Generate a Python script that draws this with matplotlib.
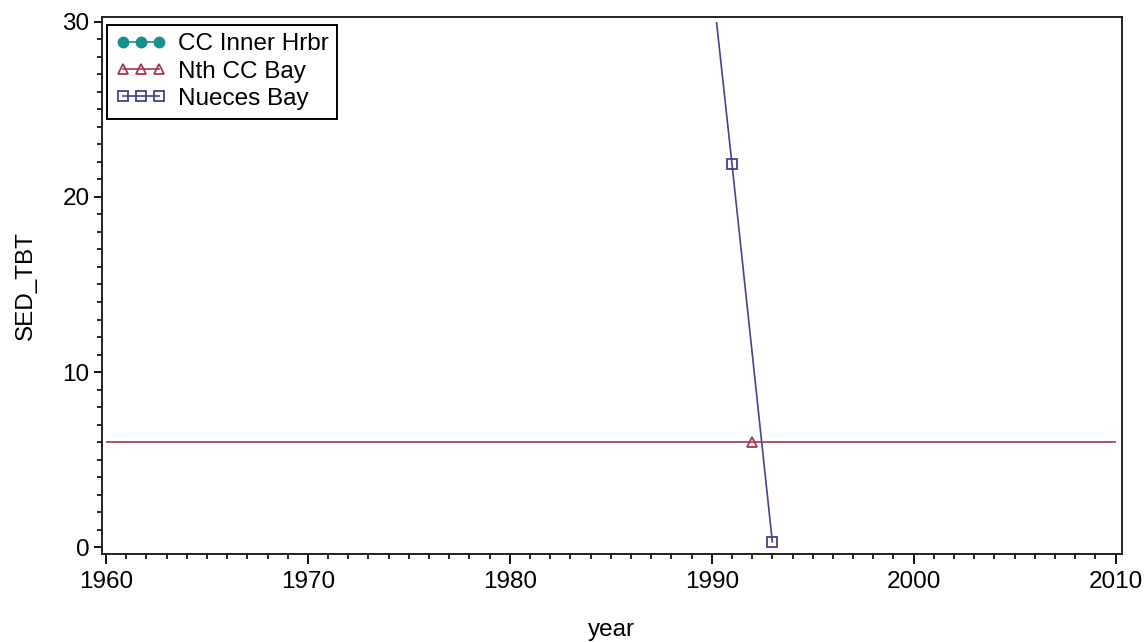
import matplotlib
matplotlib.use('Agg')
import matplotlib.pyplot as plt
from matplotlib.patches import Rectangle
from matplotlib.ticker import MultipleLocator

plt.rcParams['font.family'] = ['Liberation Sans', 'DejaVu Sans']

# series (points outside the 1960-2010 / 0-30 window are clipped, as in the source)
inner_years = []
inner_tbt = []
nth_years = [1950, 1992, 2020]
nth_tbt = [6.0, 6.0, 6.0]
nueces_years = [1990, 1991, 1993]
nueces_tbt = [32.5, 21.9, 0.3]

series_names = ['CC Inner Hrbr', 'Nth CC Bay', 'Nueces Bay']
colors = ['#17918a', '#a43750', '#42428f']

fs = 17.5

fig = plt.figure(figsize=(11.47, 6.42), dpi=100)
ax = fig.add_axes([0.0889, 0.137, 0.889, 0.837])

clip = Rectangle((1960, 0), 50, 30, transform=ax.transData)

l1, = ax.plot(inner_years, inner_tbt, color=colors[0], marker='o', markersize=7.5,
              lw=1.2, label=series_names[0])
l2, = ax.plot(nth_years, nth_tbt, color=colors[1], marker='^', markersize=7.5,
              markerfacecolor='none', markeredgewidth=1.3, lw=1.2, label=series_names[1])
l3, = ax.plot(nueces_years, nueces_tbt, color=colors[2], marker='s', markersize=7,
              markerfacecolor='none', markeredgewidth=1.3, lw=1.2, label=series_names[2])
for ln in (l1, l2, l3):
    ln.set_clip_path(clip)

ax.set_xlim(1959.8, 2010.3)
ax.set_ylim(-0.4, 30.3)
ax.set_xticks([1960, 1970, 1980, 1990, 2000, 2010])
ax.set_yticks([0, 10, 20, 30])
ax.xaxis.set_minor_locator(MultipleLocator(1))
ax.yaxis.set_minor_locator(MultipleLocator(1))
ax.tick_params(which='major', length=6, width=1.3, labelsize=fs, colors='black')
ax.tick_params(axis='x', which='major', length=7, pad=5)
ax.tick_params(axis='y', which='major', pad=3)
ax.tick_params(which='minor', length=3.5, width=1.2)
for sp in ax.spines.values():
    sp.set_linewidth(1.4)
    sp.set_color('#222222')

ax.set_xlabel('year', fontsize=fs, labelpad=19)
ax.set_ylabel('SED_TBT', fontsize=fs, labelpad=18)

leg = ax.legend(loc='upper left', bbox_to_anchor=(0.005, 0.985), borderaxespad=0,
                fontsize=fs, numpoints=3, handlelength=2.1, handletextpad=0.45,
                labelspacing=0.22, borderpad=0.35, fancybox=False, framealpha=1)
leg.get_frame().set_edgecolor('black')
leg.get_frame().set_linewidth(1.4)

fig.savefig('out.png', dpi=100)
